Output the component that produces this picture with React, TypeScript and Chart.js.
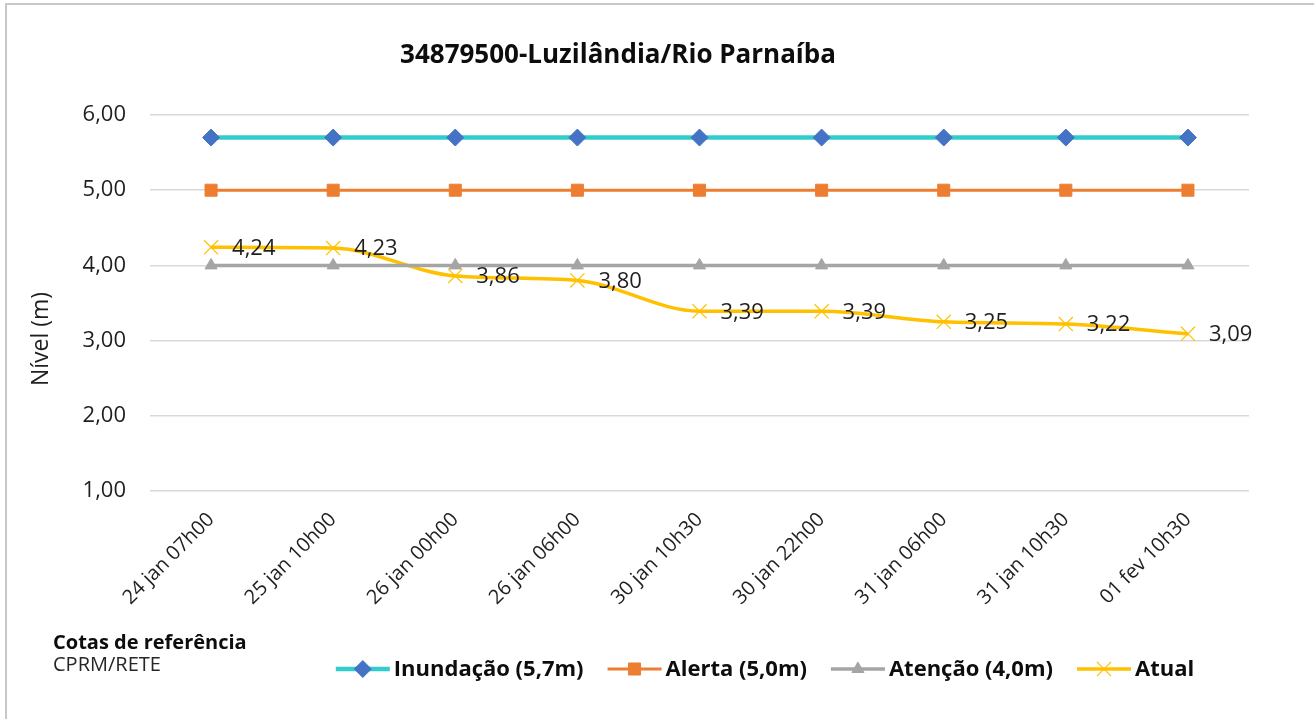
import React, { useEffect, useRef } from 'react';
import { Chart, registerables } from 'chart.js';
import { drawPoint } from 'chart.js/helpers';

Chart.register(...registerables);

const categories = [
  '24 jan 07h00',
  '25 jan 10h00',
  '26 jan 00h00',
  '26 jan 06h00',
  '30 jan 10h30',
  '30 jan 22h00',
  '31 jan 06h00',
  '31 jan 10h30',
  '01 fev 10h30',
];
const inundacao = [5.7, 5.7, 5.7, 5.7, 5.7, 5.7, 5.7, 5.7, 5.7];
const alerta = [5.0, 5.0, 5.0, 5.0, 5.0, 5.0, 5.0, 5.0, 5.0];
const atencao = [4.0, 4.0, 4.0, 4.0, 4.0, 4.0, 4.0, 4.0, 4.0];
const atual = [4.24, 4.23, 3.86, 3.8, 3.39, 3.39, 3.25, 3.22, 3.09];
const seriesLabels = ['Inundação (5,7m)', 'Alerta (5,0m)', 'Atenção (4,0m)', 'Atual'];
const yMin = 1;
const yMax = 6;
const yStep = 1;
const chartTitle = '34879500-Luzilândia/Rio Parnaíba';
const yTitle = 'Nível (m)';
const sourceTitle = 'Cotas de referência';
const sourceText = 'CPRM/RETE';

const FONT = '"Open Sans", "Noto Sans", sans-serif';
const W = 1307;
const H = 714;
const TEXT = '#1f1f1f';

const fmt = (v: number) => v.toFixed(2).replace('.', ',');

const decorPlugin = {
  id: 'decor',
  afterDatasetsDraw(chart: any) {
    const ctx = chart.ctx as CanvasRenderingContext2D;
    const meta = chart.getDatasetMeta(3);
    ctx.save();
    ctx.font = `22px ${FONT}`;
    ctx.fillStyle = TEXT;
    ctx.textAlign = 'left';
    ctx.textBaseline = 'middle';
    meta.data.forEach((pt: any, i: number) => {
      ctx.fillText(fmt(atual[i]), pt.x + 21, pt.y + 1);
    });
    ctx.restore();
  },
  afterDraw(chart: any) {
    const ctx = chart.ctx as CanvasRenderingContext2D;
    ctx.save();
    // title
    ctx.font = `bold 26px ${FONT}`;
    ctx.fillStyle = '#0d0d0d';
    ctx.textAlign = 'center';
    ctx.textBaseline = 'middle';
    ctx.fillText(chartTitle, 611, 51);

    // y axis title
    ctx.save();
    ctx.translate(34, 334);
    ctx.rotate(-Math.PI / 2);
    ctx.font = `23px ${FONT}`;
    ctx.fillStyle = TEXT;
    ctx.textAlign = 'center';
    ctx.textBaseline = 'middle';
    ctx.fillText(yTitle, 0, 0);
    ctx.restore();

    // source text
    ctx.textAlign = 'left';
    ctx.textBaseline = 'middle';
    ctx.fillStyle = '#0d0d0d';
    ctx.font = `bold 20px ${FONT}`;
    ctx.fillText(sourceTitle, 46, 638);
    ctx.fillStyle = '#262626';
    ctx.font = `20px ${FONT}`;
    ctx.fillText(sourceText, 46, 660);

    // legend
    const datasets = chart.data.datasets;
    const lineLen = 54;
    const gapText = 4;
    const gapItem = 24;
    ctx.font = `bold 22px ${FONT}`;
    const widths = datasets.map((d: any) => ctx.measureText(d.label).width);
    const total =
      widths.reduce((a: number, b: number) => a + b, 0) +
      datasets.length * (lineLen + gapText) +
      (datasets.length - 1) * gapItem;
    let x = 758 - total / 2;
    const y = 664;
    datasets.forEach((d: any, i: number) => {
      ctx.save();
      ctx.strokeStyle = d.borderColor;
      ctx.lineWidth = d.borderWidth;
      ctx.beginPath();
      ctx.moveTo(x, y);
      ctx.lineTo(x + lineLen, y);
      ctx.stroke();
      ctx.fillStyle = d.pointBackgroundColor;
      ctx.strokeStyle = d.pointBorderColor;
      ctx.lineWidth = d.pointBorderWidth;
      drawPoint(ctx, { pointStyle: d.pointStyle, radius: d.pointRadius, borderWidth: d.pointBorderWidth, rotation: 0 } as any, x + lineLen / 2, y);
      ctx.restore();
      ctx.fillStyle = '#0d0d0d';
      ctx.textAlign = 'left';
      ctx.textBaseline = 'middle';
      ctx.fillText(d.label, x + lineLen + gapText, y + 1);
      x += lineLen + gapText + widths[i] + gapItem;
    });
    ctx.restore();
  },
};

export default function App() {
  const ref = useRef<HTMLCanvasElement | null>(null);

  useEffect(() => {
    if (!ref.current) return;
    const chart = new Chart(ref.current, {
      type: 'line',
      data: {
        labels: categories,
        datasets: [
          {
            label: seriesLabels[0],
            data: inundacao,
            borderColor: '#33CCCC',
            borderWidth: 4.5,
            pointStyle: 'rectRot',
            pointRadius: 8.5,
            pointBackgroundColor: '#4472C4',
            pointBorderColor: '#4472C4',
            pointBorderWidth: 1,
            tension: 0,
          },
          {
            label: seriesLabels[1],
            data: alerta,
            borderColor: '#ED7D31',
            borderWidth: 3,
            pointStyle: 'rect',
            pointRadius: 8.5,
            pointBackgroundColor: '#ED7D31',
            pointBorderColor: '#ED7D31',
            pointBorderWidth: 1,
            tension: 0,
          },
          {
            label: seriesLabels[2],
            data: atencao,
            borderColor: '#A5A5A5',
            borderWidth: 3.5,
            pointStyle: 'triangle',
            pointRadius: 7,
            pointBackgroundColor: '#A5A5A5',
            pointBorderColor: '#A5A5A5',
            pointBorderWidth: 1,
            tension: 0,
          },
          {
            label: seriesLabels[3],
            data: atual,
            borderColor: '#FFC000',
            borderWidth: 3.5,
            pointStyle: 'crossRot',
            pointRadius: 10,
            pointBackgroundColor: '#FFC000',
            pointBorderColor: '#FFC000',
            pointBorderWidth: 1.2,
            cubicInterpolationMode: 'monotone',
          },
        ],
      },
      options: {
        responsive: false,
        maintainAspectRatio: false,
        animation: false,
        layout: { padding: { left: 0, right: 65, top: 110, bottom: 0 } },
        plugins: {
          legend: { display: false },
          title: { display: false },
          tooltip: { enabled: false },
        },
        scales: {
          x: {
            offset: true,
            grid: { display: false },
            border: { display: false },
            ticks: {
              autoSkip: false,
              minRotation: 45,
              maxRotation: 45,
              padding: 9,
              color: TEXT,
              font: { family: FONT, size: 20 },
            },
            afterFit: (scale: any) => {
              scale.height = 228;
            },
          },
          y: {
            min: yMin,
            max: yMax,
            grid: { color: '#D9D9D9', lineWidth: 1.5, drawTicks: false },
            border: { display: false },
            ticks: {
              stepSize: yStep,
              padding: 24,
              color: TEXT,
              font: { family: FONT, size: 22 },
              callback: (v: any) => fmt(Number(v)),
            },
            afterFit: (scale: any) => {
              scale.width = 143;
            },
          },
        },
      },
      plugins: [decorPlugin],
    });
    return () => chart.destroy();
  }, []);

  return (
    <div
      style={{
        position: 'fixed',
        left: 5,
        top: 3,
        width: 1400,
        height: 800,
        borderLeft: '2px solid #C8C8C8',
        borderTop: '2px solid #C8C8C8',
        background: '#fff',
      }}
    >
      <canvas ref={ref} width={W} height={H} style={{ display: 'block', width: W, height: H }} />
    </div>
  );
}
